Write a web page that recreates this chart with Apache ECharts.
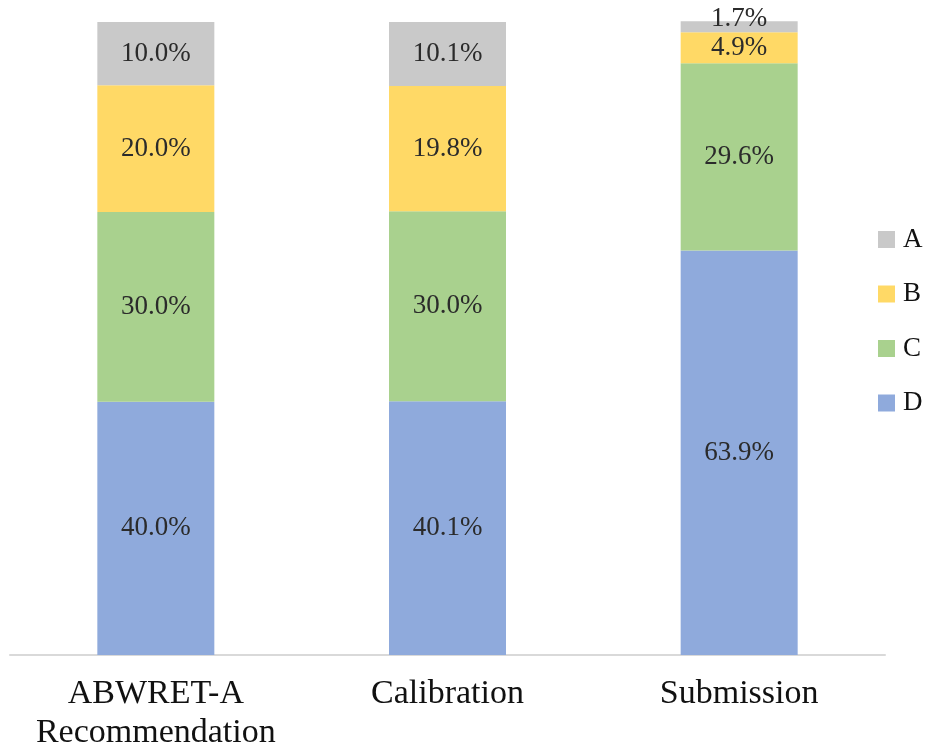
<!DOCTYPE html>
<html>
<head>
<meta charset="utf-8">
<script src="https://cdn.jsdelivr.net/npm/echarts@6/dist/echarts.min.js"></script>
<style>
  html, body { margin: 0; padding: 0; background: #fff; }
  #chart { width: 930px; height: 753px; }
</style>
</head>
<body>
<div id="chart"></div>
<script>
// Categories along the x axis
var categories = ['ABWRET-A\nRecommendation', 'Calibration', 'Submission'];
// Share (%) of each class per category
var valuesD = [40.0, 40.1, 63.9];
var valuesC = [30.0, 30.0, 29.6];
var valuesB = [20.0, 19.8, 4.9];
var valuesA = [10.0, 10.1, 1.7];
var seriesNames = ['A', 'B', 'C', 'D'];

var colors = { A: '#C9C9C9', B: '#FFD966', C: '#A9D18E', D: '#8FAADC' };
var serif = '"Liberation Serif", "Times New Roman", serif';

function makeSeries(name, values) {
  return {
    name: name,
    type: 'bar',
    stack: 'total',
    barWidth: 117,
    clip: false,
    itemStyle: { color: colors[name] },
    label: {
      show: true,
      position: 'inside',
      fontFamily: serif,
      fontSize: 27,
      color: '#2b2b2b',
      formatter: function (p) { return p.value.toFixed(1) + '%'; }
    },
    data: values.map(function (v) {
      // a very thin segment keeps its label nudged upward so it stays readable
      if (v < 3) {
        return { value: v, label: { offset: [0, -8] } };
      }
      return v;
    })
  };
}

var chart = echarts.init(document.getElementById('chart'));
chart.setOption({
  animation: false,
  grid: { left: 10, right: 45, top: 22, bottom: 93, containLabel: false },
  legend: {
    orient: 'vertical',
    left: 873,
    top: 221,
    data: seriesNames,
    itemWidth: 17,
    itemHeight: 17,
    itemGap: 27.5,
    icon: 'rect',
    textStyle: { fontFamily: serif, fontSize: 27, color: '#111', padding: [0, 0, 0, 3] }
  },
  xAxis: {
    type: 'category',
    data: categories,
    axisLine: { lineStyle: { color: '#D9D9D9', width: 2 } },
    axisTick: { show: false },
    axisLabel: {
      fontFamily: serif,
      fontSize: 34,
      lineHeight: 39,
      color: '#111',
      margin: 20,
      interval: 0
    }
  },
  yAxis: {
    type: 'value',
    min: 0,
    max: 100,
    show: false,
    splitLine: { show: false }
  },
  series: [
    makeSeries('D', valuesD),
    makeSeries('C', valuesC),
    makeSeries('B', valuesB),
    makeSeries('A', valuesA)
  ]
});
</script>
</body>
</html>
